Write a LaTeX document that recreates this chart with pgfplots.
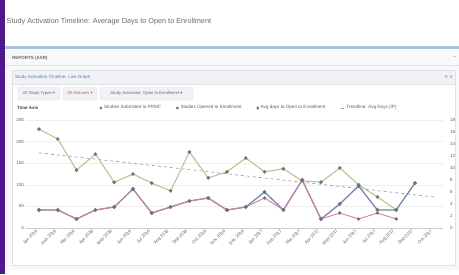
\documentclass[border=0pt]{standalone}
\usepackage{pgfplots}
\pgfplotsset{compat=1.18}
\usepackage{fontspec}
\setmainfont{Liberation Sans}
\newfontfamily\symfont{DejaVu Sans}
\definecolor{purp}{RGB}{80,24,140}
\definecolor{band}{RGB}{170,194,224}
\definecolor{panel}{RGB}{247,248,250}
\definecolor{bord}{RGB}{222,225,230}
\definecolor{btn}{RGB}{240,242,245}
\definecolor{linkblue}{RGB}{85,125,195}
\definecolor{txtgray}{RGB}{105,105,105}
\definecolor{lblgray}{RGB}{95,95,95}
\definecolor{mk}{RGB}{115,115,120}
\definecolor{pinkl}{RGB}{214,128,160}
\definecolor{bluel}{RGB}{120,135,175}
\definecolor{greenl}{RGB}{180,200,140}
\definecolor{trend}{RGB}{150,160,200}
\definecolor{redtxt}{RGB}{190,95,70}
\pgfplotsset{
  dotlegend/.style={legend image code/.code={\draw[##1, only marks] plot coordinates {(0.06cm,0cm)};}},
  dashlegend/.style={legend image code/.code={\draw[##1] (0cm,0cm) -- (0.12cm,0cm);}},
}
\begin{document}
\begin{tikzpicture}[x=1bp,y=1bp]
\path[use as bounding box] (0,0) rectangle (459,274);
\fill[white] (0,0) rectangle (459,274);
\fill[panel] (5,4) rectangle (459,226);
\fill[band] (5,225) rectangle (459,228);
\fill[purp] (0,0) rectangle (5,274);
\node[anchor=west,inner sep=0,text=txtgray,font=\fontsize{7.3}{9}\selectfont] at (6.5,252) {Study Activation Timeline: Average Days to Open to Enrollment};
\node[anchor=west,inner sep=0,text=txtgray,font=\fontsize{4.5}{5}\selectfont\bfseries] at (12,216) {REPORTS (ASR)};
\node[anchor=east,inner sep=0,text=txtgray,font=\fontsize{5}{5}\selectfont] at (456,216) {--};
\draw[bord] (5,208.5) -- (459,208.5);
\filldraw[fill=white,draw=bord] (12,9) rectangle (455,204);
\filldraw[fill=btn,draw=bord] (12,190) rectangle (455,204);
\node[anchor=west,inner sep=0,text=linkblue,font=\fontsize{4.5}{5}\selectfont] at (15,197) {Study Activation Timeline: Line Graph};
\node[anchor=east,inner sep=0,text=txtgray,font=\symfont\fontsize{4}{5}\selectfont] at (453,197) {↻\,\,✕};
\filldraw[fill=btn,draw=bord,rounded corners=1.5] (18,174) rectangle (60,187);
\node[inner sep=0,text=txtgray,font=\fontsize{4.2}{5}\selectfont] at (39,180.5) {All Study Types {\symfont ▾}};
\filldraw[fill=btn,draw=bord,rounded corners=1.5] (63,174) rectangle (97,187);
\node[inner sep=0,text=redtxt,font=\fontsize{4.2}{5}\selectfont] at (80,180.5) {All Statuses {\symfont ▾}};
\filldraw[fill=btn,draw=bord,rounded corners=1.5] (100,174) rectangle (193,187);
\node[inner sep=0,text=txtgray,font=\fontsize{4.2}{5}\selectfont] at (146.5,180.5) {Study Activation: Open to Enrollment {\symfont ▾}};
\node[anchor=west,inner sep=0,text=black!75,font=\fontsize{4.5}{5}\selectfont\bfseries] at (17,166) {Time Axis};

\begin{axis}[
  at={(25.8bp,46bp)}, anchor=south west, scale only axis,
  width=417.4bp, height=108bp,
  xmin=-0.7, xmax=21.5, ymin=0, ymax=250,
  separate axis lines,
  axis x line*=bottom, axis y line*=left,
  axis line style={-},
  x axis line style={draw={rgb,255:red,205;green,205;blue,205}},
  y axis line style={draw=none},
  xtick={0,...,21},
  xticklabels={Jan 2016,Feb 2016,Mar 2016,Apr 2016,May 2016,Jun 2016,Jul 2016,Aug 2016,Sep 2016,Oct 2016,Nov 2016,Dec 2016,Jan 2017,Feb 2017,Mar 2017,Apr 2017,May 2017,Jun 2017,Jul 2017,Aug 2017,Sep 2017,Oct 2017},
  ytick={0,50,...,250},
  major tick length=0pt,
  ymajorgrids, grid style={draw={rgb,255:red,238;green,238;blue,238}, line width=0.4pt},
  tick label style={font=\fontsize{4.5}{5}\selectfont, text=lblgray},
  yticklabel style={xshift=1.5bp},
  x tick label style={rotate=45, anchor=east},
  /pgf/number format/assume math mode=true,
  clip=false,
]
\addplot[trend, dashed, line width=0.7pt, forget plot] coordinates {(0,174) (21,72)};
\addplot[greenl, line width=1.1pt, mark=*, mark size=1.2pt, mark options={fill=mk, draw=mk, solid}, forget plot] coordinates {
(0,229) (1,206) (2,134) (3,171) (4,106) (5,125) (6,104) (7,86) (8,176) (9,116)
(10,130) (11,162) (12,130) (13,137) (14,109) (15,106) (16,139) (17,100) (18,72) (19,42)};
\end{axis}

\begin{axis}[
  at={(25.8bp,46bp)}, anchor=south west, scale only axis,
  width=417.4bp, height=108bp,
  xmin=-0.7, xmax=21.5, ymin=0, ymax=18,
  axis x line=none,
  axis y line*=right,
  axis line style={-},
  y axis line style={draw=none},
  ytick={0,2,...,18},
  major tick length=0pt,
  tick label style={font=\fontsize{4.5}{5}\selectfont, text=lblgray},
  yticklabel style={xshift=3.5bp},
  /pgf/number format/assume math mode=true,
  clip=false,
  legend columns=4,
  legend style={at={(0.535,1)}, anchor=center, yshift=12bp, draw=none, fill=none,
    font=\fontsize{4.6}{5}\selectfont, text=lblgray, inner sep=1pt,
    /tikz/every even column/.append style={column sep=13bp}},
  legend cell align=left,
]
\addplot[bluel, line width=1.3pt, mark=*, mark size=1.2pt, mark options={fill=mk, draw=mk}, forget plot] coordinates {
(0,3) (1,3) (2,1.5) (3,3) (4,3.5) (5,6.5) (6,2.5) (7,3.5) (8,4.5) (9,5)
(10,3) (11,3.5) (12,6) (13,3) (14,8) (15,1.5) (16,4) (17,7) (18,3) (19,3) (20,7.5)};
\addplot[pinkl, line width=0.9pt, mark=*, mark size=1.2pt, mark options={fill=mk, draw=mk}, forget plot] coordinates {
(0,3) (1,3) (2,1.5) (3,3) (4,3.5) (5,6.5) (6,2.5) (7,3.5) (8,4.5) (9,5)
(10,3) (11,3.5) (12,5) (13,3) (14,8) (15,1.5) (16,2.5) (17,1.5) (18,2.5) (19,1.5)};
\addlegendimage{dotlegend, pinkl, mark=*, mark size=1.2pt, mark options={fill=mk, draw=mk}}
\addlegendentry{Studies Submitted to PRMC}
\addlegendimage{dotlegend, bluel, mark=*, mark size=1.2pt, mark options={fill=mk, draw=mk}}
\addlegendentry{Studies Opened to Enrollment}
\addlegendimage{dotlegend, greenl, mark=diamond*, mark size=1.4pt, mark options={fill=mk, draw=mk}}
\addlegendentry{Avg days to Open to Enrollment}
\addlegendimage{dashlegend, trend, line width=0.7pt}
\addlegendentry{Trendline: Avg Days (IP)}
\end{axis}
\end{tikzpicture}
\end{document}
